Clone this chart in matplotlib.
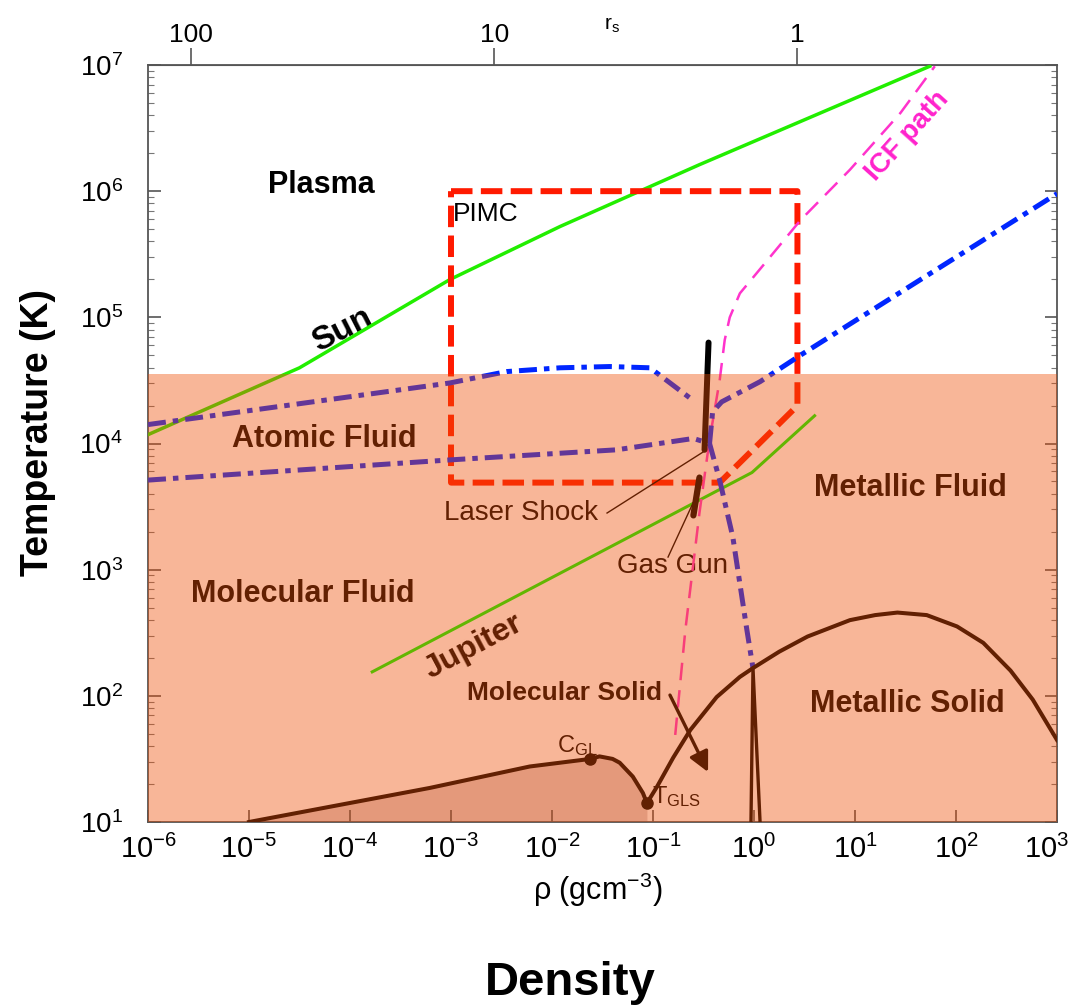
#Diagrama de fases del hidrogeno (densidad vs temperatura)
import numpy as np
import matplotlib
matplotlib.use('Agg')
import matplotlib.pyplot as plt
import matplotlib.transforms as mtransforms
from matplotlib import font_manager
from matplotlib.ticker import LogLocator, NullLocator

#--- Fuentes
nombres = {f.name for f in font_manager.fontManager.ttflist}
ESTRECHA = 'Liberation Sans Narrow' if 'Liberation Sans Narrow' in nombres else None
plt.rcParams['font.family'] = ['Liberation Sans', 'DejaVu Sans']
plt.rcParams['mathtext.fontset'] = 'custom'
plt.rcParams['mathtext.rm'] = 'Liberation Sans'
plt.rcParams['mathtext.it'] = 'Liberation Sans:italic'
plt.rcParams['mathtext.bf'] = 'Liberation Sans:bold'

#--- Datos: log10(rho [g/cm3]) y log10(T [K])
sun_lrho = [-6.0, -4.50, -3.01, -1.92, -0.54, 1.74]
sun_lT = [4.07, 4.60, 5.30, 5.72, 6.21, 6.99]

jup_lrho = [-3.78, -0.02, 0.60]
jup_lT = [2.19, 3.77, 4.22]

pimc_lrho = [-3.0, 0.43, 0.43, -0.34, -3.0, -3.0]
pimc_lT = [6.0, 6.0, 4.30, 3.69, 3.69, 6.0]

icf_lrho = [-0.78, -0.68, -0.54, -0.44, -0.34, -0.29, -0.24, -0.14, 0.13, 0.46, 0.95, 1.45, 1.79]
icf_lT = [1.69, 2.52, 3.45, 4.03, 4.50, 4.82, 5.00, 5.19, 5.45, 5.77, 6.17, 6.62, 6.99]

# disociacion / ionizacion (lineas azules)
dis_sup_lrho = [-6.0, -3.01, -2.45, -1.92, -1.43, -1.03, -0.60]
dis_sup_lT = [4.15, 4.48, 4.57, 4.60, 4.61, 4.60, 4.34]
dis_inf_lrho = [-6.0, -3.01, -1.36, -0.60, -0.44, -0.34, -0.21, -0.07, -0.01]
dis_inf_lT = [3.71, 3.87, 3.95, 4.04, 4.00, 3.71, 3.26, 2.52, 2.22]
dis_der_lrho = [-0.44, -0.41, -0.32, 0.06, 0.46, 3.0]
dis_der_lT = [4.00, 4.25, 4.33, 4.49, 4.70, 5.98]

# curva de fusion y coexistencia gas-liquido
melt_lrho = [-1.06, -0.96, -0.80, -0.63, -0.37, -0.14, -0.01, 0.25, 0.53, 0.95, 1.20, 1.42, 1.71, 2.01, 2.27, 2.54, 2.76, 3.0]
melt_lT = [1.15, 1.28, 1.51, 1.73, 1.99, 2.15, 2.22, 2.35, 2.47, 2.60, 2.64, 2.66, 2.64, 2.55, 2.42, 2.20, 1.97, 1.65]
gl_lrho = [-5.0, -3.21, -2.22, -1.62, -1.53, -1.40, -1.33, -1.20, -1.10, -1.06]
gl_lT = [1.0, 1.27, 1.44, 1.50, 1.52, 1.50, 1.47, 1.36, 1.23, 1.15]
cgl = (-1.62, 1.50)
tgls = (-1.06, 1.15)

# frontera solido molecular / metalico
cuña_lrho = [-0.03, -0.01, 0.06]
cuña_lT = [1.0, 2.22, 1.0]

# experimentos
laser_lrho = [-0.45, -0.49]
laser_lT = [4.80, 3.95]
gas_lrho = [-0.54, -0.60]
gas_lT = [3.73, 3.43]

T_sombra = 3.55e4
RHO_RS1 = 2.69
rs_ticks = [100, 10, 1]


def p(lr, lt):
    return 10.0 ** np.array(lr), 10.0 ** np.array(lt)


fig = plt.figure(figsize=(10.74, 10.06), dpi=100)
ax = fig.add_axes([148 / 1074, 1 - 822 / 1006, 909 / 1074, 757 / 1006])
ax.set_xscale('log')
ax.set_yscale('log')
ax.set_xlim(1e-6, 1e3)
ax.set_ylim(10, 1e7)

# relleno bajo la curva gas-liquido
x, y = p(gl_lrho, gl_lT)
ax.fill_between(x, 10, y, color='#DCCFCF', lw=0, zorder=1)

ax.plot(*p(sun_lrho, sun_lT), color='#22EE00', lw=2.5, zorder=5)
ax.plot(*p(jup_lrho, jup_lT), color='#00FF00', lw=2.2, zorder=5)
ax.plot(*p(pimc_lrho, pimc_lT), color='#FF1A00', lw=4.3, dashes=(3.6, 1.4), zorder=6)
ax.plot(*p(icf_lrho, icf_lT), color='#FF33CC', lw=1.8, dashes=(7, 4), zorder=6)
estilo_azul = dict(color='#0026FF', lw=3.6, dashes=(3.6, 1.4, 1.1, 1.4), zorder=7)
ax.plot(*p(dis_sup_lrho, dis_sup_lT), **estilo_azul)
ax.plot(*p(dis_inf_lrho, dis_inf_lT), **estilo_azul)
ax.plot(*p(dis_der_lrho, dis_der_lT), **estilo_azul)

ax.plot(*p(melt_lrho, melt_lT), color='k', lw=2.9, zorder=8, solid_joinstyle='round')
ax.plot(*p(gl_lrho, gl_lT), color='k', lw=2.9, zorder=8, solid_joinstyle='round')
ax.plot(*p(cuña_lrho, cuña_lT), color='k', lw=2.4, zorder=8)
ax.plot(*p([cgl[0], tgls[0]], [cgl[1], tgls[1]]), 'o', color='k', ms=8, zorder=9)

ax.plot(*p(laser_lrho, laser_lT), color='k', lw=4.3, solid_capstyle='round', zorder=9)
ax.plot(*p(gas_lrho, gas_lT), color='k', lw=4.5, solid_capstyle='round', zorder=9)

# lineas de anotacion
ax.plot(*p([-1.455, -0.505], [3.449, 3.932]), color='k', lw=1.0, zorder=9)
ax.plot(*p([-0.851, -0.604], [3.10, 3.528]), color='k', lw=1.0, zorder=9)
ax.annotate('', xy=(10 ** -0.455, 10 ** 1.396), xytext=(10 ** -0.832, 10 ** 2.006),
            arrowprops=dict(arrowstyle='-|>', lw=2.4, color='k', mutation_scale=30,
                            shrinkA=0, shrinkB=0), zorder=9)

#--- Textos
neg = dict(fontweight='bold', ha='center', va='center')
ax.text(10 ** -4.28, 10 ** 6.05, 'Plasma', size=22, color='k', **neg)
ax.text(10 ** -4.08, 10 ** 4.90, 'Sun', size=24, rotation=27, color='k', **neg)
ax.text(10 ** 1.52, 10 ** 6.44, 'ICF path', size=20, rotation=48, color='#FF22CC', **neg)
ax.text(10 ** -4.25, 10 ** 4.035, 'Atomic Fluid', size=22, **neg)
ax.text(10 ** -4.47, 10 ** 2.807, 'Molecular Fluid', size=22, **neg)
ax.text(10 ** -2.78, 10 ** 2.387, 'Jupiter', size=23, rotation=28, **neg)
ax.text(10 ** 1.545, 10 ** 3.647, 'Metallic Fluid', size=22, **neg)
ax.text(10 ** 1.515, 10 ** 1.935, 'Metallic Solid', size=22, **neg)
ax.text(10 ** -1.88, 10 ** 2.022, 'Molecular Solid', size=19, **neg)
ax.text(10 ** -2.98, 10 ** 5.818, 'PIMC', size=19, ha='left', va='center')
ax.text(10 ** -2.31, 10 ** 3.449, 'Laser Shock', size=20, ha='center', va='center')
ax.text(10 ** -0.81, 10 ** 3.029, 'Gas Gun', size=20, ha='center', va='center')
ax.text(10 ** -1.95, 10 ** 1.555, r'C$_{\mathregular{GL}}$', size=17, ha='left', va='baseline')
ax.text(10 ** -1.01, 10 ** 1.151, r'T$_{\mathregular{GLS}}$', size=17, ha='left', va='baseline')

# sombra semitransparente sobre la region de baja temperatura
ax.fill_between([1e-6, 1e3], 10, T_sombra, color='#F04E05', alpha=0.41, lw=0, zorder=20)

#--- Ejes
for s in ax.spines.values():
    s.set_color('#555555')
    s.set_linewidth(1.3)
ax.set_xticks(10.0 ** np.arange(-6, 4))
ax.set_yticks(10.0 ** np.arange(1, 8))
ax.xaxis.set_minor_locator(NullLocator())
ax.yaxis.set_minor_locator(LogLocator(subs=np.arange(2, 10)))
ax.tick_params(which='major', direction='in', length=9, width=1.2, color='#555555', right=True)
ax.tick_params(which='minor', direction='in', length=4, width=0.8, color='#777777', right=True)
ax.tick_params(axis='x', labelsize=21, pad=9)
ax.tick_params(axis='y', labelsize=20, pad=18)

# la ultima etiqueta (10^3) se corre un poco a la izquierda para que no se corte
ultimo = ax.xaxis.get_major_ticks()[-1]
ultimo.label1.set_transform(ultimo.label1.get_transform()
                            + mtransforms.ScaledTranslation(-0.1, 0, fig.dpi_scale_trans))

def rho_a_rs(rho):
    return (RHO_RS1 / rho) ** (1.0 / 3.0)

def rs_a_rho(rs):
    return RHO_RS1 / rs ** 3

secax = ax.secondary_xaxis('top', functions=(rho_a_rs, rs_a_rho))
secax.set_xticks(rs_ticks)
secax.set_xticklabels([str(v) for v in rs_ticks])
secax.xaxis.set_minor_locator(NullLocator())
secax.tick_params(direction='out', length=12, width=1.2, color='#555555', labelsize=19, pad=1)
secax.spines['top'].set_color('#555555')

fig.text(612 / 1074, 1 - 25 / 1006, r'r$_{\mathregular{s}}$', size=15, ha='center', va='center')
fig.text(598 / 1074, 1 - 890 / 1006, r'ρ (gcm$^{\mathregular{-3}}$)', size=22, ha='center', va='center')
fig.text(570 / 1074, 1 - 983 / 1006, 'Density', size=34, fontweight='bold', ha='center', va='center')
if ESTRECHA:
    fig.text(38 / 1074, 1 - 433 / 1006, 'Temperature (K)', size=33, fontweight='bold',
             rotation=90, ha='center', va='center', family=[ESTRECHA, 'DejaVu Sans'])
else:
    fig.text(38 / 1074, 1 - 433 / 1006, 'Temperature (K)', size=27, fontweight='bold',
             rotation=90, ha='center', va='center')

plt.savefig('out.png', dpi=100)
